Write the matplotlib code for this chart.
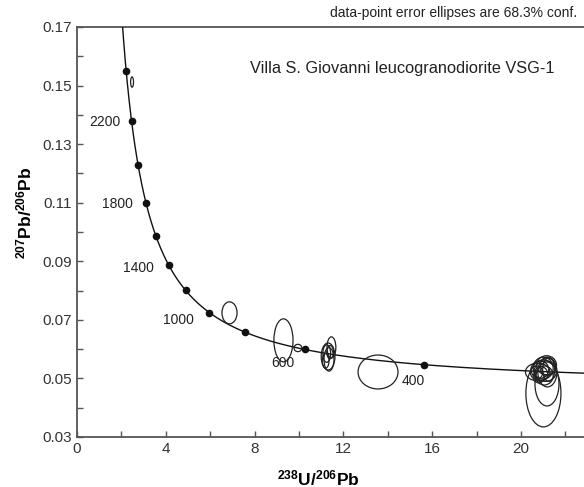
import numpy as np
import matplotlib
matplotlib.use("Agg")
import matplotlib.pyplot as plt
from matplotlib.patches import Ellipse

plt.rcParams['font.family'] = 'Liberation Sans'
plt.rcParams['mathtext.fontset'] = 'custom'
plt.rcParams['mathtext.bf'] = 'Liberation Sans:bold'
plt.rcParams['mathtext.rm'] = 'Liberation Sans'

# decay constants (1/Ma) and U ratio for the Tera-Wasserburg concordia
L238 = 1.55125e-4
L235 = 9.8485e-4
U85 = 137.88

# concordia age markers (Ma) and which ones are labelled
marker_ages = [2400, 2200, 2000, 1800, 1600, 1400, 1200, 1000, 800, 600, 400]
label_ages = [2200, 1800, 1400, 1000, 600, 400]
label_offsets = [(-11, -1), (-13, -1), (-15, -3), (-15, -7), (-10, -14), (1, -16)]

# data-point error ellipses: centre 238U/206Pb, centre 207Pb/206Pb, full width, full height
ell_x = [2.48, 6.87, 9.30, 9.95,
         11.46, 11.31, 11.25, 11.35, 11.20, 11.40,
         13.56,
         21.01, 21.17, 21.19,
         20.70, 20.85, 21.00, 21.10, 21.20, 20.90, 21.05, 21.25, 20.80,
         20.75, 21.15]
ell_y = [0.1512, 0.0724, 0.0630, 0.0604,
         0.0606, 0.0575, 0.0585, 0.0565, 0.0560, 0.0590,
         0.0522,
         0.0449, 0.0481, 0.0522,
         0.0520, 0.0530, 0.0535, 0.0525, 0.0540, 0.0515, 0.0510, 0.0530, 0.0505,
         0.0522, 0.0545]
ell_w = [0.13, 0.68, 0.86, 0.35,
         0.40, 0.62, 0.35, 0.45, 0.30, 0.30,
         1.80,
         1.58, 1.08, 0.86,
         0.55, 0.80, 0.90, 1.00, 0.70, 0.60, 0.80, 0.55, 0.50,
         1.10, 0.90]
ell_h = [0.0035, 0.0075, 0.0147, 0.0025,
         0.0072, 0.0092, 0.0060, 0.0080, 0.0050, 0.0045,
         0.0116,
         0.0229, 0.0150, 0.0102,
         0.0045, 0.0060, 0.0075, 0.0070, 0.0060, 0.0050, 0.0065, 0.0080, 0.0040,
         0.0060, 0.0065]


def tw(t):
    t = np.asarray(t, dtype=float)
    r68 = np.exp(L238 * t) - 1
    r75 = np.exp(L235 * t) - 1
    return 1 / r68, r75 / r68 / U85


fig = plt.figure(figsize=(5.84, 4.87), dpi=100)
ax = fig.add_axes([77 / 584, 50 / 487, 1 - 77 / 584, 410 / 487])

curve_t = np.linspace(260, 2700, 600)
cx, cy = tw(curve_t)
ax.plot(cx, cy, color='#111111', lw=1.0, zorder=3)

mx, my = tw(marker_ages)
ax.plot(mx, my, 'o', color='#111111', ms=4.5, zorder=4)

for age, off in zip(label_ages, label_offsets):
    lx, ly = tw(age)
    ax.annotate(str(age), (lx, ly), xytext=off, textcoords='offset pixels',
                ha='right', va='center', fontsize=10, color='#222222')

for x, y, w, h in zip(ell_x, ell_y, ell_w, ell_h):
    ax.add_patch(Ellipse((x, y), w, h, angle=0, fill=False,
                         edgecolor='#222222', lw=0.9, zorder=5))

ax.set_xlim(0, 507 / 22.2)
ax.set_ylim(0.03, 0.17)
ax.set_xticks([0, 4, 8, 12, 16, 20])
ax.set_xticks([2, 6, 10, 14, 18, 22], minor=True)
ax.set_yticks([0.03, 0.05, 0.07, 0.09, 0.11, 0.13, 0.15, 0.17])
ax.set_yticks([0.04, 0.06, 0.08, 0.10, 0.12, 0.14, 0.16], minor=True)
ax.yaxis.set_major_formatter(matplotlib.ticker.FormatStrFormatter('%.2f'))
ax.tick_params(which='both', direction='in', length=4, width=1, color='#555555',
               labelsize=11, labelcolor='#333333', top=False, right=False)
ax.spines['right'].set_visible(False)
for s in ['left', 'bottom', 'top']:
    ax.spines[s].set_color('#555555')
    ax.spines[s].set_linewidth(1.3)

fig.text(318 / 584, 1 - 478 / 487, r'$\mathbf{^{238}U/^{206}Pb}$', fontsize=12.5,
         ha='center', va='center')
fig.text(24 / 584, 1 - 213 / 487, r'$\mathbf{^{207}Pb/^{206}Pb}$', fontsize=12.5,
         ha='center', va='center', rotation=90)

ax.text((250 - 77) / 507, 1 - (68 - 27) / 410,
        'Villa S. Giovanni leucogranodiorite VSG-1', transform=ax.transAxes,
        fontsize=11.8, color='#222222', va='center')
fig.text(577 / 584, 1 - 13 / 487, 'data-point error ellipses are 68.3% conf.',
         ha='right', va='center', fontsize=10, color='#222222')

fig.savefig('out.png', dpi=100)
